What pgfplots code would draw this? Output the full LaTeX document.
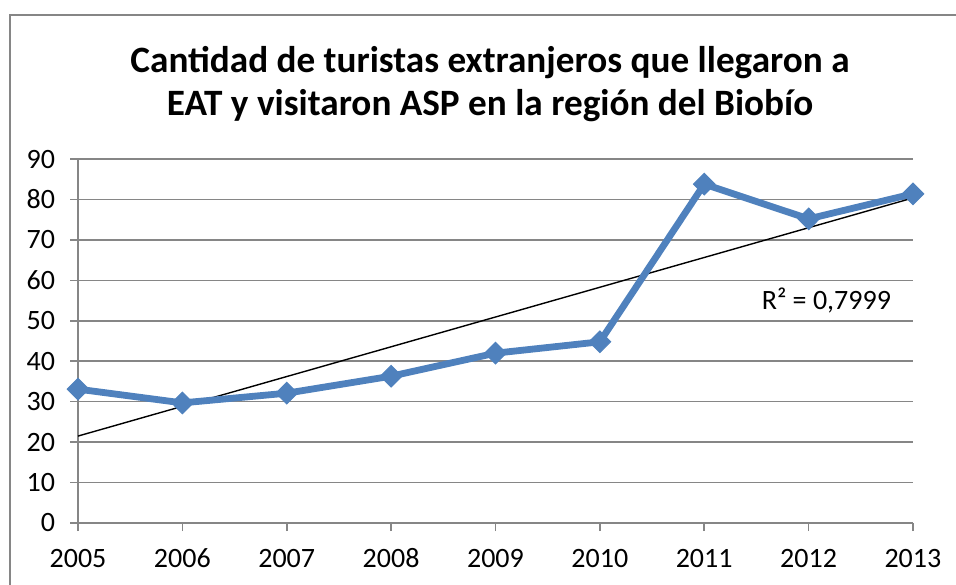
\documentclass[border=0pt]{standalone}
\usepackage{pgfplots}
\usepackage{pgfplotstable}
\pgfplotsset{compat=1.18}
\usepackage{fontspec}
\setmainfont{Carlito}
\definecolor{serie}{HTML}{4F81BD}
\definecolor{ejes}{HTML}{868686}

\pgfplotstableread{
i year visits
0 2005 33.1
1 2006 29.7
2 2007 32.1
3 2008 36.3
4 2009 42.0
5 2010 44.8
6 2011 83.8
7 2012 75.2
8 2013 81.4
}\turistas

\begin{document}
\begin{tikzpicture}
\useasboundingbox (0,0) rectangle (478pt,292pt);
\clip (0,0) rectangle (478pt,292pt);
% borde del area del grafico (recortado como en la imagen)
\draw[ejes, line width=1pt] (5pt,-10pt) -- (5pt,284.5pt) -- (500pt,284.5pt);
\node[align=center, font=\fontsize{18.6}{21.5}\selectfont\bfseries] at (245pt,250pt)
  {Cantidad de turistas extranjeros que llegaron a\\EAT y visitaron ASP en la región del Biobío};
\begin{axis}[
    at={(39pt,30.5pt)}, anchor=south west,
    scale only axis,
    width=417.5pt, height=182pt,
    xmin=2005, xmax=2013,
    ymin=0, ymax=90,
    xtick={2005,...,2013},
    ytick={0,10,...,90},
    axis lines=left,
    axis line style={ejes, line width=0.8pt, -},
    tick align=outside,
    major tick length=4pt,
    tick style={ejes, line width=0.8pt},
    ymajorgrids,
    grid style={ejes, line width=0.8pt},
    tick label style={font=\fontsize{14}{16}\selectfont},
    /pgf/number format/assume math mode=true,
    /pgf/number format/1000 sep={},
    xticklabel style={anchor=north, text height=9.5pt, text depth=0pt, yshift=-5pt},
    yticklabel style={xshift=-4pt},
    clip=false,
]
\addplot[black, line width=0.7pt] table[x=year, y={create col/linear regression={x=i,y=visits}}] {\turistas};
\addplot[serie, line width=3.4pt, mark=diamond*, mark size=5.4pt,
    mark options={xscale=1.33, solid, fill=serie, line width=0.5pt}] table[x=year, y=visits] {\turistas};
\node[font=\fontsize{14}{16}\selectfont] at (axis cs:2012.17,55.1) {R² = 0,7999};
\end{axis}
\end{tikzpicture}
\end{document}
